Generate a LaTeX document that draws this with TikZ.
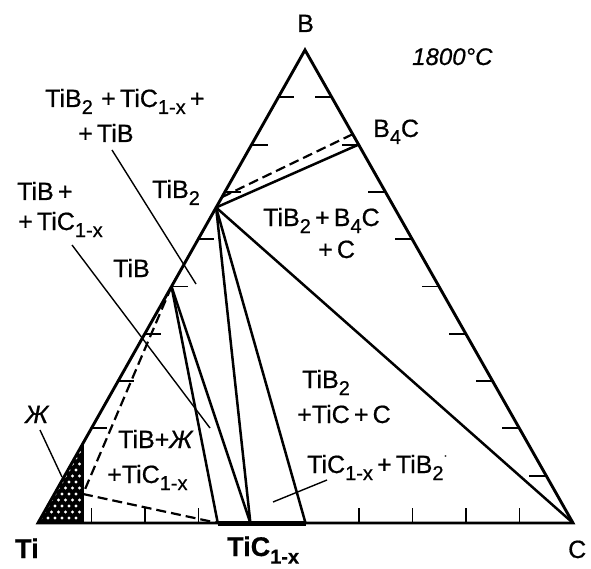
\documentclass[tikz,border=0pt]{standalone}
\usepackage{fontspec}
\setmainfont{Liberation Sans}[FakeBold=0.6]
\usetikzlibrary{calc}
\newcommand\lo[1]{\raisebox{-0.28em}{\fontsize{20}{20}\selectfont #1}}
\begin{document}
\begin{tikzpicture}[x=1pt,y=-1pt,
  lbl/.style={anchor=base west, inner sep=0pt, font=\fontsize{25}{28}\selectfont},
  blbl/.style={lbl, font=\fontsize{27}{30}\selectfont\bfseries},
  side/.style={line width=2.9pt, line join=miter},
  tie/.style={line width=2.5pt},
  dashline/.style={line width=2.2pt, dash pattern=on 10pt off 5pt},
  leader/.style={line width=1.4pt},
  tickmark/.style={line width=1.9pt}]
\useasboundingbox (0,0) rectangle (591,569);
\coordinate (Ti) at (38,523);
\coordinate (C) at (573,523);
\coordinate (B) at (305,50);
\coordinate (TiB2) at ($(Ti)!0.667!(B)$);
\coordinate (TiB) at ($(Ti)!0.5!(B)$);
\coordinate (B4C) at ($(B)!0.2!(C)$);
\coordinate (TiCa) at ($(Ti)!0.336!(C)$);
\coordinate (TiCb) at ($(Ti)!0.397!(C)$);
\coordinate (TiCc) at ($(Ti)!0.5!(C)$);
\coordinate (Lb) at (83,523);
\coordinate (Lt) at ($(Ti)!0.168!(B)$);
\coordinate (Lm) at (83,494);
\coordinate (Da) at ($(Ti)!0.689!(B)$);
\coordinate (Db) at ($(B)!0.178!(C)$);
% liquid region
\fill (Ti) -- (Lt) -- (Lb) -- cycle;
\begin{scope}
  \clip (Ti) -- (Lt) -- (Lb) -- cycle;
  \foreach \i in {0,...,16} {
    \foreach \j in {0,...,5} {
      \pgfmathsetmacro{\xx}{41+7*\j+3.5*mod(\i,2)}
      \pgfmathsetmacro{\yy}{518-6*\i}
      \fill[white] (\xx,\yy) circle (1.6);
    }
  }
\end{scope}
\draw[line width=1.8pt] (Lt) -- (Lb);
% ticks
\foreach \t in {0.1,0.2,0.3,0.4,0.5,0.6,0.7,0.8}
  \draw[tickmark] ($(B)!\t!(Ti)$) -- ++(16,0);
\foreach \t in {0.1,0.2,0.3,0.4,0.5,0.6,0.7,0.8,0.9}
  \draw[tickmark] ($(B)!\t!(C)$) -- ++(-17,0);
\foreach \t in {0.1,0.2,0.3,0.6,0.7,0.8,0.9}
  \draw[tickmark] ($(Ti)!\t!(C)$) -- ++(0,-15);
% dashed boundaries
\draw[dashline] (TiB) -- (Lm);
\draw[dashline] (Lm) -- (TiCa);
\draw[dashline] (Da) -- (Db);
% tie lines
\draw[tie] (TiB2) -- (B4C);
\draw[tie] (TiB2) -- (C);
\draw[tie] (TiB2) -- (TiCb);
\draw[tie] (TiB2) -- (TiCc);
\draw[tie] (TiB) -- (TiCa);
\draw[tie] (TiB) -- (TiCb);
% triangle
\draw[side] (Ti) -- (B) -- (C) -- cycle;
\draw[line width=5pt] (TiCa) -- (TiCc);
% labels
\node[lbl] (l1a) at (45,107) {TiB\lo{2}\,\,+\,TiC\lo{1-x}\,+};
\node[lbl] (l1b) at (78,142) {+\,TiB};
\node[lbl] (l2a) at (17,200) {TiB\,+};
\node[lbl] (l2b) at (18,230) {+\,TiC\lo{1-x}};
\node[lbl] (lTiB2) at (152,198) {TiB\lo{2}};
\node[lbl] (lTiB) at (113,277) {TiB};
\node[lbl] (l3a) at (263,226) {TiB\lo{2}\,+\,B\lo{4}C};
\node[lbl] (l3b) at (318,258) {+\,C};
\node[lbl] (lB4C) at (373,137) {B\lo{4}C};
\node[lbl, font=\fontsize{24}{28}\selectfont\itshape] (lT) at (412,65) {1800°C};
\node[lbl] (lB) at (297,32) {B};
\node[lbl] (l4a) at (302,388) {TiB\lo{2}};
\node[lbl] (l4b) at (297,423) {+TiC\,+\,C};
\node[lbl] (l5) at (307,473) {TiC\lo{1-x}\,+\,TiB\lo{2}\raisebox{0.55em}{\fontsize{12}{12}\selectfont ·}};
\node[lbl] (l6a) at (118,448) {TiB+\textit{Ж}};
\node[lbl] (l6b) at (107,483) {+TiC\lo{1-x}};
\node[lbl, font=\fontsize{25}{28}\selectfont\itshape] (lL) at (25,423) {Ж};
\node[blbl] (lTi) at (15,558) {Ti};
\node[blbl] (lTiC) at (227,556) {TiC\lo{1-x}};
\node[lbl] (lC) at (568,558) {C};
% leaders
\coordinate (e1) at (196,284);
\coordinate (e2) at (210,428);
\coordinate (e3) at (62,477);
\coordinate (e4) at (273,502);
\draw[leader] (112,150) -- (e1);
\draw[leader] (72,245) -- (e2);
\draw[leader] (40,430) -- (e3);
\draw[leader] (327,480) -- (e4);
\end{tikzpicture}
\end{document}
